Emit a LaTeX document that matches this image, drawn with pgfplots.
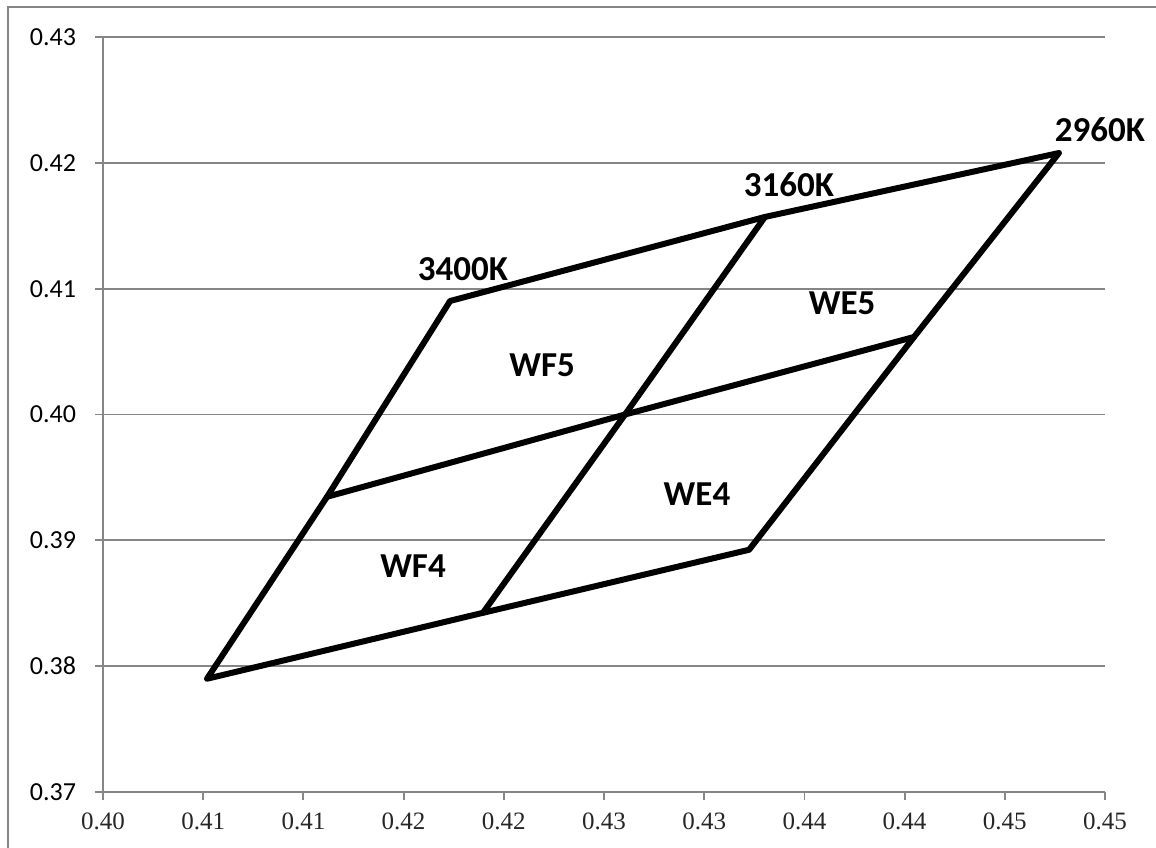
\documentclass[border=0pt]{standalone}
\usepackage{pgfplots}
\pgfplotsset{compat=1.18}
\usepackage{fontspec}
\setmainfont{Carlito}
\newfontfamily\tickserif{Liberation Serif}
\definecolor{gridgray}{RGB}{134,134,134}
\begin{document}
\begin{tikzpicture}
\begin{axis}[
  scale only axis,
  width=501bp, height=377.5bp,
  at={(0,0)}, anchor=south west,
  xmin=0.40, xmax=0.45, ymin=0.37, ymax=0.43,
  xtick={0.400,0.405,0.410,0.415,0.420,0.425,0.430,0.435,0.440,0.445,0.450},
  xticklabels={0.40,0.41,0.41,0.42,0.42,0.43,0.43,0.44,0.44,0.45,0.45},
  ytick={0.37,0.38,0.39,0.40,0.41,0.42,0.43},
  yticklabels={0.37,0.38,0.39,0.40,0.41,0.42,0.43},
  axis x line*=bottom, axis y line*=left,
  axis line style={-, gridgray, line width=0.9bp},
  ymajorgrids, grid style={gridgray, line width=0.9bp},
  tick align=outside, major tick length=4bp,
  tick style={gridgray, line width=0.9bp},
  xticklabel style={font=\tickserif\fontsize{12.5bp}{14bp}\selectfont, text=black!85, yshift=-3bp},
  yticklabel style={font=\fontsize{13bp}{15bp}\selectfont, xshift=-6bp},
  clip=false,
]
% outer boundary
\addplot[black, line width=3bp, line join=round, line cap=round] coordinates {
  (0.40519,0.37900) (0.41118,0.39346) (0.41732,0.40902) (0.43303,0.41570)
  (0.44770,0.42078) (0.44047,0.40616) (0.43224,0.38925) (0.41896,0.38424)
  (0.40519,0.37900)
};
% middle horizontal
\addplot[black, line width=3bp, line join=round, line cap=round] coordinates {
  (0.41118,0.39346) (0.42605,0.40000) (0.44047,0.40616)
};
% middle vertical
\addplot[black, line width=3bp, line join=round, line cap=round] coordinates {
  (0.41896,0.38424) (0.42605,0.40000) (0.43303,0.41570)
};
\begin{scope}[every node/.style={font=\bfseries\fontsize{17.5bp}{20bp}\selectfont}]
\node at (axis cs:0.41796,0.41157) {3400K};
\node at (axis cs:0.43423,0.41824) {3160K};
\node at (axis cs:0.44975,0.42261) {2960K};
\node at (axis cs:0.42191,0.40394) {WF5};
\node at (axis cs:0.43688,0.40886) {WE5};
\node at (axis cs:0.42964,0.39369) {WE4};
\node at (axis cs:0.41547,0.38797) {WF4};
\end{scope}
\end{axis}
\path[use as bounding box] (-51.5bp,-28bp) rectangle (526.5bp,396bp);
\draw[gridgray, line width=1bp] (-47.5bp,-30bp) -- (-47.5bp,392.5bp) -- (530bp,392.5bp);
\end{tikzpicture}
\end{document}
